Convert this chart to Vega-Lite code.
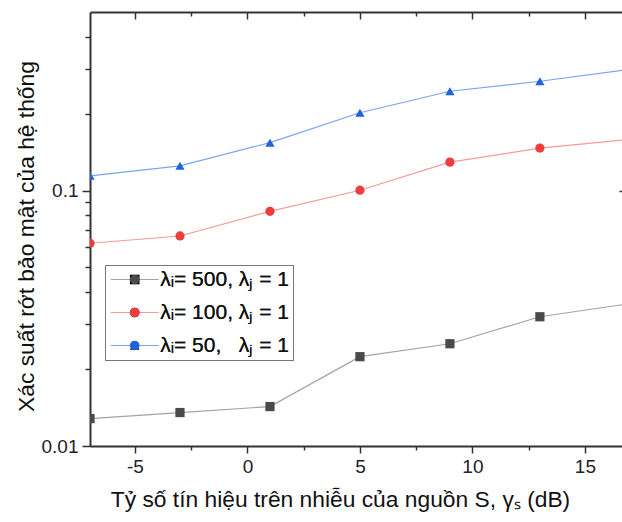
{
  "$schema": "https://vega.github.io/schema/vega-lite/v6.json",
  "width": 532,
  "height": 434,
  "autosize": "none",
  "padding": {"left": 90, "top": 12, "right": 0, "bottom": 76},
  "background": "white",
  "config": {
    "font": "Liberation Sans",
    "view": {"stroke": null},
    "axis": {
      "grid": false,
      "domainColor": "#333333",
      "tickColor": "#333333",
      "domainWidth": 2,
      "tickWidth": 1.5,
      "labelColor": "#222222",
      "titleColor": "#111111",
      "labelFont": "Liberation Sans",
      "titleFont": "Liberation Sans",
      "labelFontSize": 19,
      "titleFontSize": 22.8,
      "titleFontWeight": "normal"
    },
    "legend": {"labelFont": "Liberation Sans"}
  },
  "datasets": {
    "pts": [
      {"series": "λᵢ= 500, λⱼ = 1", "snr": -7, "p": 0.0128},
      {"series": "λᵢ= 500, λⱼ = 1", "snr": -3, "p": 0.01352},
      {"series": "λᵢ= 500, λⱼ = 1", "snr": 1, "p": 0.01427},
      {"series": "λᵢ= 500, λⱼ = 1", "snr": 5, "p": 0.02237},
      {"series": "λᵢ= 500, λⱼ = 1", "snr": 9, "p": 0.02514},
      {"series": "λᵢ= 500, λⱼ = 1", "snr": 13, "p": 0.03206},
      {"series": "λᵢ= 500, λⱼ = 1", "snr": 17, "p": 0.0361},
      {"series": "λᵢ= 100, λⱼ = 1", "snr": -7, "p": 0.0622},
      {"series": "λᵢ= 100, λⱼ = 1", "snr": -3, "p": 0.0664},
      {"series": "λᵢ= 100, λⱼ = 1", "snr": 1, "p": 0.0829},
      {"series": "λᵢ= 100, λⱼ = 1", "snr": 5, "p": 0.1003},
      {"series": "λᵢ= 100, λⱼ = 1", "snr": 9, "p": 0.1292},
      {"series": "λᵢ= 100, λⱼ = 1", "snr": 13, "p": 0.1466},
      {"series": "λᵢ= 100, λⱼ = 1", "snr": 17, "p": 0.1586},
      {"series": "λᵢ= 50,\u00a0\u00a0\u00a0λⱼ = 1", "snr": -7, "p": 0.1142},
      {"series": "λᵢ= 50,\u00a0\u00a0\u00a0λⱼ = 1", "snr": -3, "p": 0.125},
      {"series": "λᵢ= 50,\u00a0\u00a0\u00a0λⱼ = 1", "snr": 1, "p": 0.154},
      {"series": "λᵢ= 50,\u00a0\u00a0\u00a0λⱼ = 1", "snr": 5, "p": 0.2017},
      {"series": "λᵢ= 50,\u00a0\u00a0\u00a0λⱼ = 1", "snr": 9, "p": 0.2447},
      {"series": "λᵢ= 50,\u00a0\u00a0\u00a0λⱼ = 1", "snr": 13, "p": 0.2678},
      {"series": "λᵢ= 50,\u00a0\u00a0\u00a0λⱼ = 1", "snr": 17, "p": 0.2983}
    ]
  },
  "data": {"name": "pts"},
  "resolve": {"axis": {"x": "independent", "y": "independent"}},
  "layer": [
    {
      "mark": {"type": "line", "clip": true, "strokeWidth": 1.2},
      "encoding": {
        "x": {
          "field": "snr", "type": "quantitative",
          "scale": {"domain": [-7, 16.65], "nice": false, "zero": false},
          "axis": {"orient": "bottom", "values": [-5, 0, 5, 10, 15], "tickSize": 7, "labelPadding": 4,
                   "labelExpr": "'' + datum.value",
                   "title": "Tỷ số tín hiệu trên nhiễu của nguồn S, γₛ (dB)", "titlePadding": 12, "titleX": 250}
        },
        "y": {
          "field": "p", "type": "quantitative",
          "scale": {"type": "log", "domain": [0.01, 0.5], "nice": false},
          "axis": {"orient": "left", "values": [0.01, 0.1], "format": ".2~f", "tickSize": 8, "labelPadding": 4,
                   "title": "Xác suất rớt bảo mật của hệ thống", "titlePadding": 3, "titleY": 224}
        },
        "stroke": {
          "field": "series", "type": "nominal",
          "scale": {"domain": ["λᵢ= 500, λⱼ = 1", "λᵢ= 100, λⱼ = 1", "λᵢ= 50,\u00a0\u00a0\u00a0λⱼ = 1"],
                    "range": ["#a3a3a3", "#f59a9a", "#7aa5ee"]},
          "legend": {"orient": "none", "legendX": 15, "legendY": 253, "title": null,
                     "padding": 4, "symbolType": "M-5,0H5", "symbolSize": 92, "symbolOffset": 15.2,
                     "symbolStrokeWidth": 1.2, "labelFontSize": 21, "labelOpacity": 0,
                     "rowPadding": 11}
        }
      }
    },
    {
      "mark": {"type": "point", "filled": true, "clip": true, "size": 85, "opacity": 1, "strokeWidth": 0},
      "encoding": {
        "x": {"field": "snr", "type": "quantitative", "scale": {"domain": [-7, 16.65], "nice": false, "zero": false}, "axis": null},
        "y": {"field": "p", "type": "quantitative", "scale": {"type": "log", "domain": [0.01, 0.5], "nice": false}, "axis": null},
        "fill": {
          "field": "series", "type": "nominal",
          "sort": ["λᵢ= 500, λⱼ = 1", "λᵢ= 100, λⱼ = 1", "λᵢ= 50,\u00a0\u00a0\u00a0λⱼ = 1"],
          "scale": {"range": ["#4a4a4a", "#f03c3c", "#1e62dc"]},
          "legend": {"orient": "none", "legendX": 15, "legendY": 253, "title": null, "padding": 4,
                     "strokeColor": "#777777",
                     "symbolSize": 92, "symbolOffset": 15.2, "symbolStrokeWidth": 0, "labelOffset": 15,
                     "labelFontSize": 21, "labelColor": "#111111", "rowPadding": 11}
        },
        "shape": {
          "field": "series", "type": "nominal",
          "sort": ["λᵢ= 500, λⱼ = 1", "λᵢ= 100, λⱼ = 1", "λᵢ= 50,\u00a0\u00a0\u00a0λⱼ = 1"],
          "scale": {"range": ["square", "circle", "triangle-up"]},
          "legend": {"orient": "none", "legendX": 15, "legendY": 253, "title": null, "padding": 4,
                     "strokeColor": "#777777",
                     "symbolSize": 92, "symbolOffset": 15.2, "symbolStrokeWidth": 0, "labelOffset": 15,
                     "labelFontSize": 21, "labelColor": "#111111", "rowPadding": 11}
        }
      }
    },
    {
      "mark": {"type": "point", "opacity": 0},
      "encoding": {
        "x": {"field": "snr", "type": "quantitative", "scale": {"domain": [-7, 16.65], "nice": false, "zero": false},
              "axis": {"orient": "bottom", "values": [-2.5, 2.5, 7.5, 12.5], "tickSize": 4, "labels": false, "domain": false, "title": null}},
        "y": {"field": "p", "type": "quantitative", "scale": {"type": "log", "domain": [0.01, 0.5], "nice": false},
              "axis": {"orient": "left", "values": [0.02, 0.03, 0.04, 0.05, 0.06, 0.07, 0.08, 0.09, 0.2, 0.3, 0.4], "tickSize": 5, "labels": false, "domain": false, "title": null}}
      }
    },
    {
      "mark": {"type": "point", "opacity": 0},
      "encoding": {
        "x": {"field": "snr", "type": "quantitative", "scale": {"domain": [-7, 16.65], "nice": false, "zero": false},
              "axis": {"orient": "top", "values": [-5, 0, 5, 10, 15], "tickSize": -7, "labels": false, "domain": true, "title": null}},
        "y": {"field": "p", "type": "quantitative", "scale": {"type": "log", "domain": [0.01, 0.5], "nice": false},
              "axis": {"orient": "right", "values": [0.1], "tickSize": -3, "labels": false, "domain": false, "title": null}}
      }
    },
    {
      "mark": {"type": "point", "opacity": 0},
      "encoding": {
        "x": {"field": "snr", "type": "quantitative", "scale": {"domain": [-7, 16.65], "nice": false, "zero": false},
              "axis": {"orient": "top", "values": [-2.5, 2.5, 7.5, 12.5], "tickSize": -4, "labels": false, "domain": false, "title": null}},
        "y": {"field": "p", "type": "quantitative", "scale": {"type": "log", "domain": [0.01, 0.5], "nice": false}, "axis": null}
      }
    }
  ]
}
